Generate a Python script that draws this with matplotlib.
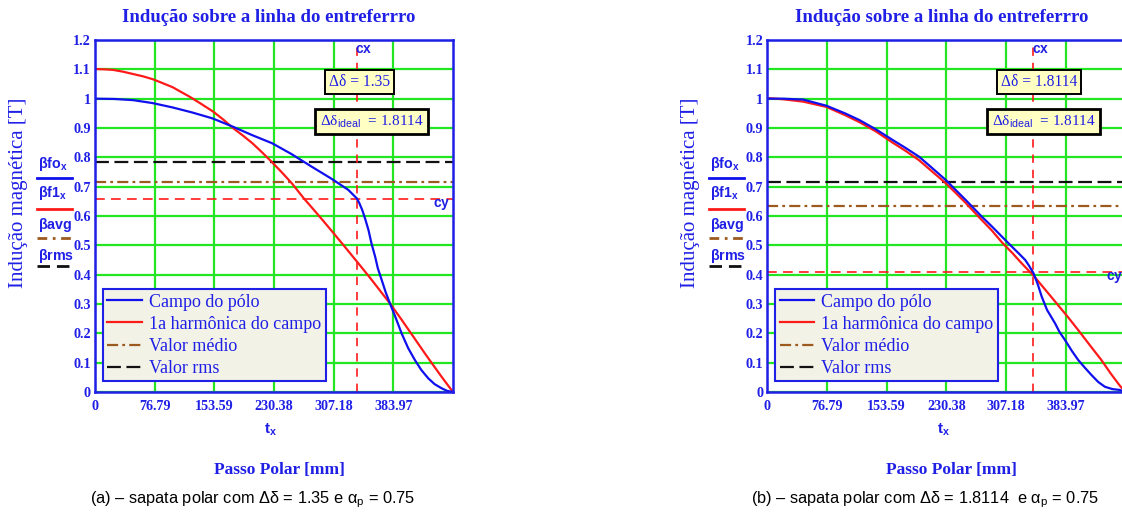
import numpy as np
import matplotlib.pyplot as plt
from matplotlib.lines import Line2D

plt.rcParams['font.family'] = ['Liberation Serif', 'DejaVu Serif']
plt.rcParams['mathtext.fontset'] = 'custom'
plt.rcParams['mathtext.rm'] = 'Liberation Serif'
plt.rcParams['mathtext.sf'] = 'Liberation Sans'
plt.rcParams['mathtext.bf'] = 'Liberation Sans:bold'
plt.rcParams['mathtext.it'] = 'Liberation Serif:italic'
plt.rcParams['lines.scale_dashes'] = False

# passo polar [mm]
x_ticks = [0, 76.79, 153.59, 230.38, 307.18, 383.97]
x_max = 460.77
y_ticks = [0, 0.1, 0.2, 0.3, 0.4, 0.5, 0.6, 0.7, 0.8, 0.9, 1.0, 1.1, 1.2]
y_ticklabels = ["0", "0.1", "0.2", "0.3", "0.4", "0.5", "0.6", "0.7", "0.8", "0.9", "1", "1.1", "1.2"]

# (a) delta = 1.35
blue_x_a = [0, 25, 49, 74, 100, 125, 151, 177, 202, 228, 253, 279, 305, 326, 337,
            340, 344, 348, 352, 356, 360.6, 364, 369, 374, 379.6, 386, 394.6, 403, 411.7,
            420, 428.8, 437, 445.9, 453, 460.77]
blue_y_a = [1.0, 0.999, 0.995, 0.985, 0.97, 0.953, 0.933, 0.905, 0.876, 0.848, 0.811, 0.768, 0.726, 0.689, 0.66,
            0.645, 0.62, 0.588, 0.552, 0.505, 0.461, 0.422, 0.382, 0.341, 0.302, 0.26, 0.2, 0.15, 0.109,
            0.075, 0.047, 0.027, 0.013, 0.004, 0.0]
red_x_a = [0, 12, 23.5, 36, 49, 62, 74.7, 87, 100, 110, 121.6, 135, 152, 165, 177, 190, 202.6, 215, 228,
           240, 253.5, 268.8, 280, 292, 305, 320, 337, 355, 379.6, 395, 411.7, 425, 436, 448, 460.77]
red_y_a = [1.101, 1.1, 1.098, 1.092, 1.084, 1.076, 1.066, 1.053, 1.039, 1.024, 1.007, 0.985, 0.956, 0.929, 0.901,
           0.875, 0.848, 0.817, 0.783, 0.75, 0.711, 0.66, 0.626, 0.589, 0.548, 0.5, 0.445, 0.386, 0.302,
           0.245, 0.181, 0.13, 0.089, 0.045, 0.0]
rms_a = 0.784
avg_a = 0.715
cx_a = 336.6
cy_a = 0.659
delta_a = 1.35

# (b) delta = 1.8114
blue_x_b = [0, 20, 46, 76, 100, 118.6, 140, 161.4, 178, 195.4, 212, 229.6, 242, 255.2, 263.6, 276, 289.2,
            306.3, 315, 323.4, 332, 337, 342.6, 348, 353.2, 360, 370.4, 376, 383.2, 392, 400.2, 409,
            417.2, 426, 434.4, 444, 453.6, 460.77]
blue_y_b = [1.0, 1.0, 0.997, 0.976, 0.95, 0.927, 0.895, 0.859, 0.832, 0.802, 0.764, 0.723, 0.69, 0.655, 0.632,
            0.598, 0.564, 0.518, 0.495, 0.473, 0.45, 0.43, 0.405, 0.368, 0.325, 0.28, 0.234, 0.205, 0.177,
            0.14, 0.109, 0.082, 0.058, 0.034, 0.018, 0.01, 0.007, 0.0]
red_x_b = [0, 20, 46, 76, 100, 118.6, 140, 161.4, 178, 195.4, 212, 229.6, 242, 255.2, 270, 289.2, 302, 315,
           328, 342.6, 358, 374.6, 388, 400.2, 415, 430, 442, 453.6, 460.77]
red_y_b = [1.002, 0.998, 0.99, 0.972, 0.944, 0.92, 0.888, 0.85, 0.822, 0.79, 0.752, 0.712, 0.68, 0.645, 0.603,
           0.55, 0.51, 0.475, 0.437, 0.397, 0.348, 0.295, 0.252, 0.211, 0.16, 0.109, 0.063, 0.022, 0.0]
rms_b = 0.715
avg_b = 0.635
cx_b = 342.6
cy_b = 0.41
delta_b = 1.8114

delta_ideal = 1.8114
alpha_p = 0.75

BLUE = '#1f1fe6'
GREEN = '#22e622'
RED = '#ff1a1a'
BROWN = '#9c5a1e'

W, H = 1122, 512
fig = plt.figure(figsize=(W / 100, H / 100), dpi=100)


def fx(px):
    return px / W


def fy(py):
    return 1 - py / H


def panel(left_px, bx, by, rx, ry, rms, avg, cx, cy, delta, caption):
    ax = fig.add_axes([fx(left_px), fy(392), 358 / W, 352 / H])
    ax.set_xlim(0, x_max)
    ax.set_ylim(0, 1.2)
    ax.set_xticks(x_ticks)
    ax.set_xticklabels(["%g" % v for v in x_ticks])
    ax.set_yticks(y_ticks)
    ax.set_yticklabels(y_ticklabels)
    ax.tick_params(length=0, labelsize=10.2, labelcolor=BLUE)
    ax.tick_params(axis='y', pad=3)
    ax.tick_params(axis='x', pad=6)
    for lab in ax.get_xticklabels() + ax.get_yticklabels():
        lab.set_fontweight('bold')
    ax.grid(True, color=GREEN, lw=1.6)
    ax.set_axisbelow(True)
    for s in ax.spines.values():
        s.set_color(BLUE)
        s.set_linewidth(1.8)
        s.set_zorder(6)

    ax.plot(bx, by, color='#1010ee', lw=1.6, label='Campo do pólo', zorder=4)
    ax.plot(rx, ry, color=RED, lw=1.6, label='1a harmônica do campo', zorder=3)
    ax.axhline(avg, color=BROWN, lw=1.6, dashes=(8, 3, 2, 3), label='Valor médio', zorder=2)
    ax.axhline(rms, color='#111111', lw=1.6, dashes=(10, 4), label='Valor rms', zorder=2)
    ax.axhline(cy, color=RED, lw=1.2, dashes=(7, 4.5), zorder=2)
    ax.axvline(cx, color=RED, lw=1.2, dashes=(6, 5), zorder=2)

    ax.text(cx - 2, 1.166, r'$\mathbf{cx}$', color=BLUE, fontsize=10, ha='left', va='center', zorder=7)
    ax.text(x_max - 3, cy - 0.02, r'$\mathbf{cy}$', color=BLUE, fontsize=10, ha='right', va='center',
            zorder=7, clip_on=False)

    ax.text(301, 1.057, 'Δδ = %g' % delta, color=BLUE, fontsize=11.2, ha='left', va='center', zorder=8,
            bbox=dict(boxstyle='square,pad=0.25', fc='#ffffc4', ec='black', lw=1.4))
    ax.text(289, 0.922, r'Δδ$_{\mathsf{ideal}}$  = %g' % delta_ideal, color=BLUE, fontsize=11,
            ha='left', va='center', zorder=8,
            bbox=dict(boxstyle='square,pad=0.3', fc='#ffffc4', ec='black', lw=2))

    leg = ax.legend(loc='lower left', bbox_to_anchor=(0.022, 0.03), borderaxespad=0, fontsize=13,
                    handlelength=1.9, handletextpad=0.4, labelspacing=0.28, borderpad=0.25,
                    fancybox=False, framealpha=1, facecolor='#f2f2e6', edgecolor=BLUE, labelcolor=BLUE)
    leg.get_frame().set_linewidth(1.5)
    leg.set_zorder(9)

    cx_px = left_px + 179
    fig.text(fx(cx_px - 5), fy(18), 'Indução sobre a linha do entreferrro', color=BLUE, fontsize=13.5,
             fontweight='bold', ha='center', va='center')
    fig.text(fx(left_px - 77), fy(193), 'Indução magnética [T]', color=BLUE, fontsize=15,
             rotation=90, ha='center', va='center')
    fig.text(fx(cx_px - 3), fy(430), r'$\mathbf{t}_\mathbf{x}$', color=BLUE, fontsize=11,
             ha='center', va='center')
    fig.text(fx(cx_px + 5), fy(470), 'Passo Polar [mm]', color=BLUE, fontsize=12.5, fontweight='bold',
             ha='center', va='center')
    fig.text(fx(cx_px - 21), fy(500), caption, family=['Liberation Sans'], color='black', fontsize=11.8,
             ha='center', va='center')

    # side legend of the curve names
    x0 = left_px - 58
    side = [(r'$\mathbf{βfo}_\mathbf{x}$', 164, 178, '#1010ee', None),
            (r'$\mathbf{βf1}_\mathbf{x}$', 193, 209, RED, None),
            (r'$\mathbf{βavg}$', 225, 238, BROWN, (7, 4, 2, 4)),
            (r'$\mathbf{βrms}$', 256, 266, '#111111', (9, 5))]
    for label, ty, ly, col, dash in side:
        fig.text(fx(x0 + 1), fy(ty), label, color=BLUE, fontsize=10.3, ha='left', va='center')
        ln = Line2D([fx(x0), fx(x0 + 35)], [fy(ly), fy(ly)], transform=fig.transFigure,
                    color=col, lw=2)
        if dash is not None:
            ln.set_dashes(dash)
        fig.add_artist(ln)
    return ax


panel(95, blue_x_a, blue_y_a, red_x_a, red_y_a, rms_a, avg_a, cx_a, cy_a, delta_a,
      r'(a) – sapata polar com Δδ = %g e α$_{\mathsf{p}}$ = %g' % (delta_a, alpha_p))
panel(767.3, blue_x_b, blue_y_b, red_x_b, red_y_b, rms_b, avg_b, cx_b, cy_b, delta_b,
      r'(b) – sapata polar com Δδ = %g  e α$_{\mathsf{p}}$ = %g' % (delta_b, alpha_p))

fig.savefig('out.png', dpi=100)
